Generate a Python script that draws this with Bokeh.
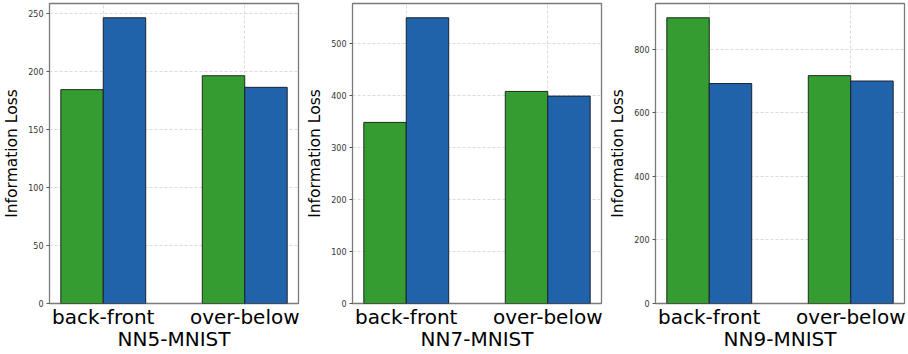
from bokeh.plotting import figure
from bokeh.layouts import row
from bokeh.models import Range1d, FixedTicker, SingleIntervalTicker, ColumnDataSource
from bokeh.embed import file_html
from bokeh.resources import INLINE

categories = ["back-front", "over-below"]
titles = ["NN5-MNIST", "NN7-MNIST", "NN9-MNIST"]
green_values = [[184.5, 196.5], [348, 407.5], [899, 717]]
blue_values = [[246.5, 186.5], [549, 398.5], [692, 700]]
tick_intervals = [50, 100, 200]

GREEN = "#349c31"
BLUE = "#2063aa"
FONT = "DejaVu Sans"
BAR_W = 0.3


def make_panel(title, greens, blues, interval):
    idx = list(range(len(categories)))
    p = figure(
        output_backend="svg", toolbar_location=None,
        frame_width=249, frame_height=300,
        x_range=Range1d(-0.38, len(categories) - 1 + 0.38),
        y_range=Range1d(0, max(greens + blues) * 1.05),
        min_border_left=0, min_border_right=5, min_border_top=3, min_border_bottom=0,
        background_fill_color="white", border_fill_color="white",
    )
    src_g = ColumnDataSource(dict(x=[i - BAR_W / 2 for i in idx], top=greens))
    src_b = ColumnDataSource(dict(x=[i + BAR_W / 2 for i in idx], top=blues))
    p.vbar(x="x", top="top", width=BAR_W, source=src_g, fill_color=GREEN,
           line_color="#1e2a1e", line_width=1)
    p.vbar(x="x", top="top", width=BAR_W, source=src_b, fill_color=BLUE,
           line_color="#1a2230", line_width=1)

    p.outline_line_color = "#7a7a7a"
    p.outline_line_width = 1.3

    # x axis
    xa = p.xaxis[0]
    xa.ticker = FixedTicker(ticks=idx)
    xa.major_label_overrides = {i: c for i, c in zip(idx, categories)}
    xa.major_label_text_font = FONT
    xa.major_label_text_font_size = "20px"
    xa.major_label_text_color = "black"
    xa.major_label_standoff = 1
    xa.major_tick_out = 0
    xa.major_tick_in = 0
    xa.minor_tick_out = 0
    xa.minor_tick_in = 0
    xa.axis_line_color = None
    xa.axis_label = title
    xa.axis_label_text_font = FONT
    xa.axis_label_text_font_size = "20px"
    xa.axis_label_text_font_style = "normal"
    xa.axis_label_text_color = "black"
    xa.axis_label_standoff = -5

    # y axis
    ya = p.yaxis[0]
    ya.ticker = SingleIntervalTicker(interval=interval, num_minor_ticks=0)
    ya.major_label_text_font = FONT
    ya.major_label_text_font_size = "8px"
    ya.major_label_text_color = "#333333"
    ya.major_label_standoff = 3
    ya.major_tick_out = 3
    ya.major_tick_in = 0
    ya.major_tick_line_color = "#555555"
    ya.minor_tick_out = 0
    ya.minor_tick_in = 0
    ya.axis_line_color = None
    ya.axis_label = "Information Loss"
    ya.axis_label_text_font = FONT
    ya.axis_label_text_font_size = "15.5px"
    ya.axis_label_text_font_style = "normal"
    ya.axis_label_text_color = "black"
    ya.axis_label_standoff = 4

    for g in (p.xgrid[0], p.ygrid[0]):
        g.grid_line_color = "#d0d0d0"
        g.grid_line_dash = "3 2"
        g.grid_line_width = 0.8
    p.xgrid[0].ticker = FixedTicker(ticks=idx)
    return p


panels = [make_panel(t, g, b, iv) for t, g, b, iv in zip(titles, green_values, blue_values, tick_intervals)]
layout = row(*panels, spacing=0)

open("out.html", "w").write(file_html(layout, INLINE))
